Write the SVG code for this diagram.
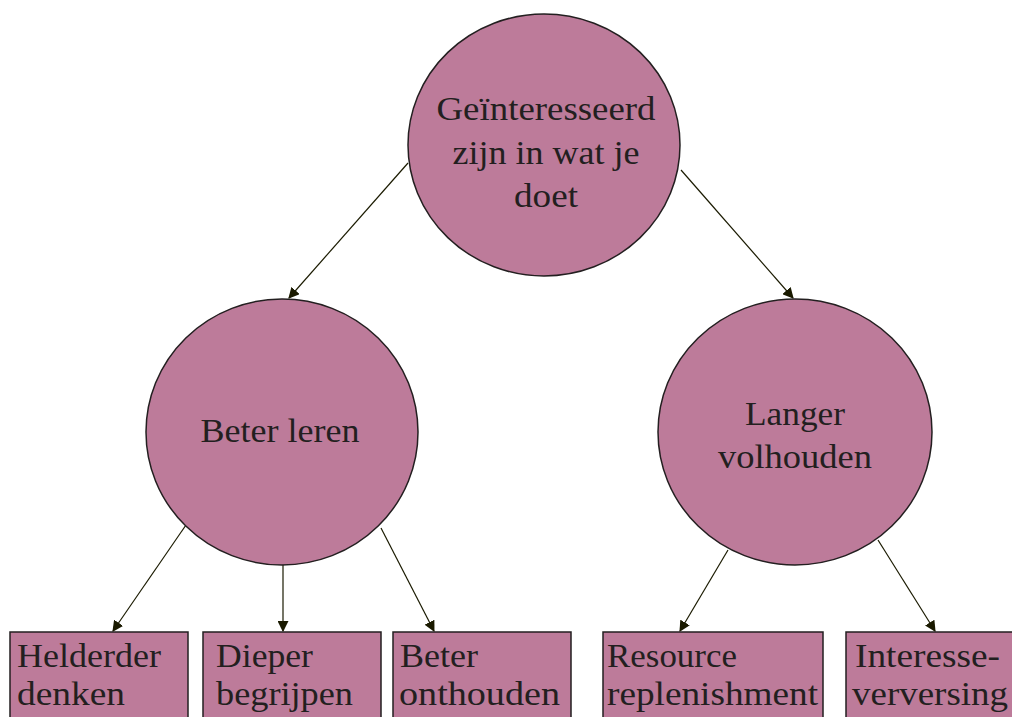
<svg xmlns="http://www.w3.org/2000/svg" width="1012" height="717" viewBox="0 0 1012 717">
<style>
.n{fill:#bd7b9a;stroke:#231f20;stroke-width:1.5}
.t{font-family:"Liberation Serif","DejaVu Serif",serif;font-size:34px;fill:#231f20}
.c{text-anchor:middle}
.e{stroke:#1a1a00;stroke-width:1.2;fill:none;marker-end:url(#ah)}
</style>
<defs>
<marker id="ah" viewBox="0 0 10 10" refX="9" refY="5" markerWidth="11" markerHeight="11" markerUnits="userSpaceOnUse" orient="auto">
<path d="M0,0 L10,5 L0,10 z" fill="#1a1a00"/>
</marker>
</defs>
<rect width="1012" height="717" fill="#ffffff"/>
<g id="connectors">
<line class="e" x1="408" y1="163" x2="289" y2="298"/>
<line class="e" x1="681" y1="170" x2="793" y2="298"/>
<line class="e" x1="186" y1="525" x2="113" y2="631"/>
<line class="e" x1="283" y1="565" x2="283" y2="631"/>
<line class="e" x1="381" y1="528" x2="434" y2="631"/>
<line class="e" x1="728" y1="550" x2="680" y2="631"/>
<line class="e" x1="878" y1="540" x2="935" y2="631"/>
</g>
<g id="n-root">
<ellipse class="n" cx="544" cy="145" rx="136" ry="131"/>
<text class="t c" x="546" y="120" textLength="219" lengthAdjust="spacingAndGlyphs">Geïnteresseerd</text>
<text class="t c" x="546" y="164" textLength="187" lengthAdjust="spacingAndGlyphs">zijn in wat je</text>
<text class="t c" x="546" y="207" textLength="64" lengthAdjust="spacingAndGlyphs">doet</text>
</g>
<g id="n-beter">
<ellipse class="n" cx="282" cy="432" rx="136" ry="133"/>
<text class="t c" x="280" y="442" textLength="159" lengthAdjust="spacingAndGlyphs">Beter leren</text>
</g>
<g id="n-langer">
<ellipse class="n" cx="795" cy="432" rx="137" ry="133"/>
<text class="t c" x="795" y="425" textLength="100" lengthAdjust="spacingAndGlyphs">Langer</text>
<text class="t c" x="795" y="468" textLength="154" lengthAdjust="spacingAndGlyphs">volhouden</text>
</g>
<g id="n-helderder">
<rect class="n" x="10" y="632" width="178" height="95"/>
<text class="t" x="17" y="667" textLength="144" lengthAdjust="spacingAndGlyphs">Helderder</text>
<text class="t" x="17" y="705" textLength="108" lengthAdjust="spacingAndGlyphs">denken</text>
</g>
<g id="n-dieper">
<rect class="n" x="203" y="632" width="178" height="95"/>
<text class="t" x="216" y="667" textLength="97" lengthAdjust="spacingAndGlyphs">Dieper</text>
<text class="t" x="216" y="705" textLength="137" lengthAdjust="spacingAndGlyphs">begrijpen</text>
</g>
<g id="n-onthouden">
<rect class="n" x="393" y="632" width="178" height="95"/>
<text class="t" x="400" y="667" textLength="78" lengthAdjust="spacingAndGlyphs">Beter</text>
<text class="t" x="399" y="705" textLength="161" lengthAdjust="spacingAndGlyphs">onthouden</text>
</g>
<g id="n-resource">
<rect class="n" x="603" y="632" width="220" height="95"/>
<text class="t" x="607" y="667" textLength="130" lengthAdjust="spacingAndGlyphs">Resource</text>
<text class="t" x="607" y="705" textLength="211" lengthAdjust="spacingAndGlyphs">replenishment</text>
</g>
<g id="n-interesse">
<rect class="n" x="846" y="632" width="178" height="95"/>
<text class="t" x="855" y="667" textLength="145" lengthAdjust="spacingAndGlyphs">Interesse-</text>
<text class="t" x="852" y="705" textLength="156" lengthAdjust="spacingAndGlyphs">verversing</text>
</g>
</svg>
